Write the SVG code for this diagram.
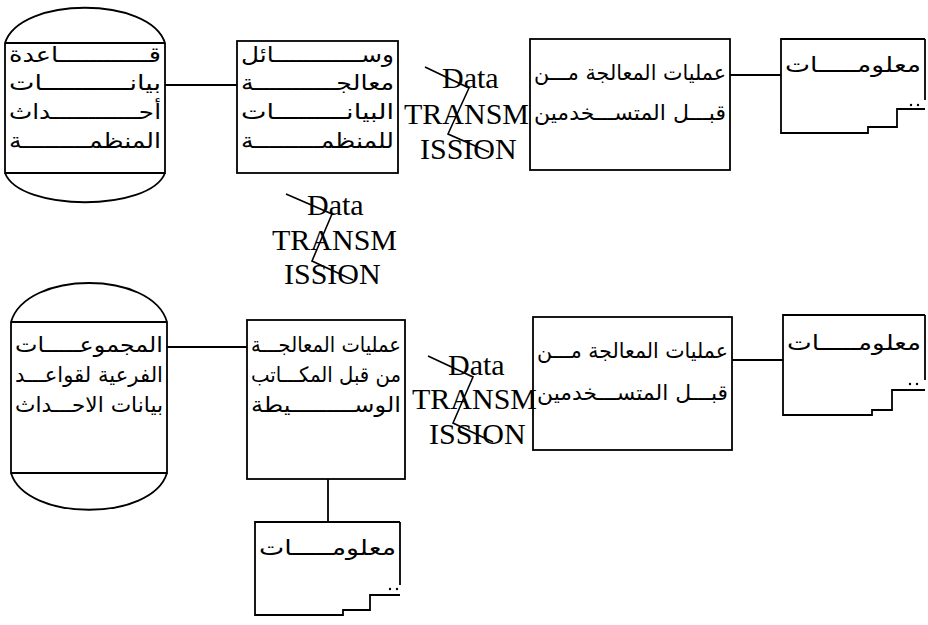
<svg xmlns="http://www.w3.org/2000/svg" width="928" height="625" viewBox="0 0 928 625">
<style>
.s{fill:none;stroke:#000;stroke-width:1.8}
.ar{font-family:"DejaVu Sans",sans-serif;font-size:21px;fill:#000}
.en{font-family:"Liberation Serif",serif;font-size:30px;fill:#000}
.z{fill:none;stroke:#000;stroke-width:1.6}
.d{fill:#000}
</style>
<rect width="928" height="625" fill="#fff"/>
<g id="connectors">
<path class="s" d="M165 85H237M730 75H781M167 347H247M732 360H783M328 479V522"/>
</g>
<g id="db-top">
<path class="s" d="M5 43C20 -4 150 -4 165 43V173H5ZM5 43H165M5 173C20 212 150 212 165 173"/>
<text class="ar" x="9" y="62" textLength="152" lengthAdjust="spacingAndGlyphs">قــــــــــــاعدة</text>
<text class="ar" x="9" y="90" textLength="152" lengthAdjust="spacingAndGlyphs">بيانـــــــــــات</text>
<text class="ar" x="9" y="119" textLength="152" lengthAdjust="spacingAndGlyphs">أحــــــــــــداث</text>
<text class="ar" x="9" y="148" textLength="152" lengthAdjust="spacingAndGlyphs">المنظمـــــــــة</text>
</g>
<g id="proc-org">
<rect class="s" x="237" y="41" width="161" height="132"/>
<text class="ar" x="241" y="62" textLength="153" lengthAdjust="spacingAndGlyphs">وســــــــــــائل</text>
<text class="ar" x="241" y="90" textLength="153" lengthAdjust="spacingAndGlyphs">معالجـــــــــــة</text>
<text class="ar" x="241" y="119" textLength="153" lengthAdjust="spacingAndGlyphs">البيانـــــــــات</text>
<text class="ar" x="241" y="148" textLength="153" lengthAdjust="spacingAndGlyphs">للمنظمـــــــــة</text>
</g>
<g id="label-top">
<text class="en" x="442" y="88">Data</text>
<text class="en" x="404" y="124">TRANSM</text>
<text class="en" x="420" y="159">ISSION</text>
<polyline class="z" points="425,67 469,88 448,134 489,152"/>
</g>
<g id="proc-users-top">
<rect class="s" x="530" y="39" width="200" height="131"/>
<text class="ar" x="534" y="80" textLength="192" lengthAdjust="spacingAndGlyphs">عمليات المعالجة مـــن</text>
<text class="ar" x="534" y="120" textLength="192" lengthAdjust="spacingAndGlyphs">قبـــل المتســـخدمين</text>
</g>
<g id="info-top">
<path class="s" d="M925 39H781V133H868V127H897V109H925M925 39V100"/>
<circle class="d" cx="911" cy="105" r="1.2"/><circle class="d" cx="918" cy="105" r="1.2"/>
<text class="ar" x="785" y="72" textLength="136" lengthAdjust="spacingAndGlyphs">معلومـــــات</text>
</g>
<g id="label-mid">
<text class="en" x="307" y="215">Data</text>
<text class="en" x="272" y="250">TRANSM</text>
<text class="en" x="284" y="284">ISSION</text>
<polyline class="z" points="286,194 332,214 312,261 353,280"/>
</g>
<g id="db-bottom">
<path class="s" d="M11 322C26 270 152 270 167 322V473H11ZM11 322H167M11 473C26 522 152 522 167 473"/>
<text class="ar" x="15" y="352" textLength="148" lengthAdjust="spacingAndGlyphs">المجموعـــــات</text>
<text class="ar" x="15" y="382" textLength="148" lengthAdjust="spacingAndGlyphs">الفرعية لقواعـــد</text>
<text class="ar" x="15" y="412" textLength="148" lengthAdjust="spacingAndGlyphs">بيانات الاحـــداث</text>
</g>
<g id="proc-offices">
<rect class="s" x="247" y="320" width="158" height="159"/>
<text class="ar" x="251" y="352" textLength="150" lengthAdjust="spacingAndGlyphs">عمليات المعالجـــة</text>
<text class="ar" x="251" y="382" textLength="150" lengthAdjust="spacingAndGlyphs">من قبل المكـــاتب</text>
<text class="ar" x="251" y="412" textLength="150" lengthAdjust="spacingAndGlyphs">الوســـــــــيطة</text>
</g>
<g id="label-bottom">
<text class="en" x="448" y="375">Data</text>
<text class="en" x="412" y="409">TRANSM</text>
<text class="en" x="429" y="444">ISSION</text>
<polyline class="z" points="428,356 473,377 453,423 493,442"/>
</g>
<g id="proc-users-bottom">
<rect class="s" x="533" y="317" width="199" height="133"/>
<text class="ar" x="537" y="358" textLength="191" lengthAdjust="spacingAndGlyphs">عمليات المعالجة مـــن</text>
<text class="ar" x="537" y="400" textLength="191" lengthAdjust="spacingAndGlyphs">قبـــل المتســـخدمين</text>
</g>
<g id="info-bottom-right">
<path class="s" d="M925 315H783V415H872V410H892V390H925M925 315V380"/>
<circle class="d" cx="910" cy="384" r="1.2"/><circle class="d" cx="917" cy="384" r="1.2"/>
<text class="ar" x="787" y="350" textLength="134" lengthAdjust="spacingAndGlyphs">معلومـــــات</text>
</g>
<g id="info-bottom-mid">
<path class="s" d="M400 522H255V615H343V610H370V595H400M400 522V585"/>
<circle class="d" cx="390" cy="589" r="1.2"/><circle class="d" cx="397" cy="589" r="1.2"/>
<text class="ar" x="259" y="555" textLength="137" lengthAdjust="spacingAndGlyphs">معلومـــــات</text>
</g>
</svg>
